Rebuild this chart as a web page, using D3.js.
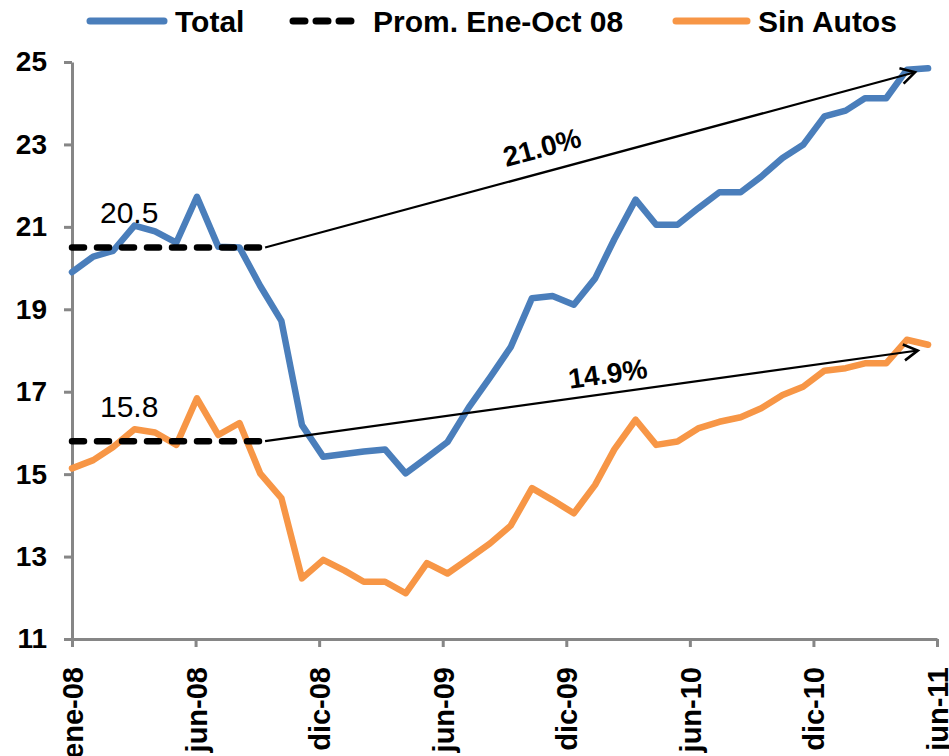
<!DOCTYPE html>
<html>
<head>
<meta charset="utf-8">
<script src="https://cdn.jsdelivr.net/npm/d3@7/dist/d3.min.js"></script>
<style>
  body { margin: 0; background: #fff; }
  svg text { font-family: "Liberation Sans", Arial, sans-serif; }
</style>
</head>
<body>
<svg width="949" height="756"></svg>
<script>
// months shown (first day of each month), ene-08 .. jun-11
var months = ["2008-01","2008-02","2008-03","2008-04","2008-05","2008-06","2008-07","2008-08","2008-09","2008-10","2008-11","2008-12",
              "2009-01","2009-02","2009-03","2009-04","2009-05","2009-06","2009-07","2009-08","2009-09","2009-10","2009-11","2009-12",
              "2010-01","2010-02","2010-03","2010-04","2010-05","2010-06","2010-07","2010-08","2010-09","2010-10","2010-11","2010-12",
              "2011-01","2011-02","2011-03","2011-04","2011-05","2011-06"];

var total = [19.9, 20.28, 20.42, 21.03, 20.89, 20.62, 21.73, 20.52, 20.5, 19.57, 18.72, 16.19,
             15.42, 15.49, 15.55, 15.6, 15.02, 15.4, 15.78, 16.62, 17.35, 18.08, 19.27, 19.32,
             19.11, 19.75, 20.7, 21.66, 21.05, 21.05, 21.45, 21.84, 21.84, 22.22, 22.67, 22.99,
             23.68, 23.82, 24.12, 24.12, 24.81, 24.85];

var sinAutos = [15.14, 15.34, 15.66, 16.09, 16.01, 15.71, 16.84, 15.95, 16.24, 15.02, 14.42, 12.47,
                12.92, 12.66, 12.39, 12.39, 12.11, 12.84, 12.59, 12.95, 13.32, 13.75, 14.66, 14.37,
                14.05, 14.74, 15.6, 16.32, 15.71, 15.79, 16.11, 16.27, 16.38, 16.6, 16.92, 17.12,
                17.51, 17.57, 17.69, 17.69, 18.26, 18.14];

// promedio ene-oct 08
var promMonths = ["2008-01", "2008-10"];
var promValues = [20.5, 15.8];
var promLabels = ["20.5", "15.8"];

// flechas de crecimiento
var growthLabels = ["21.0%", "14.9%"];
var arrowEndDates = ["2011-05-13", "2011-05-17"];
var arrowEndValues = [24.75, 18.0];

var seriesNames = ["Total", "Prom. Ene-Oct 08", "Sin Autos"];
var yTicks = [11, 13, 15, 17, 19, 21, 23, 25];
var xTickLabels = ["ene-08", "jun-08", "dic-08", "jun-09", "dic-09", "jun-10", "dic-10", "jun-11"];

var blue = "#4A7EBB", orange = "#F79646", axisGrey = "#868686";

var parseMonth = d3.utcParse("%Y-%m"),
    parseDay = d3.utcParse("%Y-%m-%d");

var svg = d3.select("svg");

// eje de fechas de Excel: marcas cada 180 dias desde el 1 de enero 2008
var start = parseMonth("2008-01");
var tickDates = xTickLabels.map(function(d, i) { return d3.utcDay.offset(start, 180 * i); });

var x = d3.scaleUtc()
    .domain([start, tickDates[tickDates.length - 1]])
    .range([72, 937]);

var y = d3.scaleLinear()
    .domain([11, 25])
    .range([639, 62]);

var line = d3.line()
    .x(function(d) { return x(d.date); })
    .y(function(d) { return y(d.value); });

function toPoints(values) {
  return values.map(function(v, i) { return {date: parseMonth(months[i]), value: v}; });
}

// ejes
var yAxis = svg.append("g")
    .attr("transform", "translate(" + x.range()[0] + ",0)")
    .call(d3.axisLeft(y).tickValues(yTicks).tickFormat(d3.format("d")).tickSize(8).tickSizeOuter(0).tickPadding(17));

var xAxis = svg.append("g")
    .attr("transform", "translate(0," + y.range()[0] + ")")
    .call(d3.axisBottom(x).tickValues(tickDates).tickFormat(function(d, i) { return xTickLabels[i]; }).tickSize(8).tickSizeOuter(0));

[yAxis, xAxis].forEach(function(ax) {
  ax.select(".domain").attr("stroke", axisGrey).attr("stroke-width", 3);
  ax.selectAll(".tick line").attr("stroke", axisGrey).attr("stroke-width", 3);
  ax.selectAll(".tick text")
    .attr("fill", "#000")
    .style("font-size", "28px")
    .style("font-weight", "bold");
});

xAxis.selectAll(".tick text")
    .attr("transform", "rotate(-90)")
    .attr("x", -28)
    .attr("y", 0)
    .attr("dy", "0.36em")
    .style("text-anchor", "end")
    .style("font-size", "29px");

// series
var series = [
  {name: seriesNames[0], color: blue, values: toPoints(total)},
  {name: seriesNames[2], color: orange, values: toPoints(sinAutos)}
];

svg.selectAll(".serie")
    .data(series)
    .enter().append("path")
    .attr("class", "serie")
    .attr("d", function(d) { return line(d.values); })
    .attr("fill", "none")
    .attr("stroke", function(d) { return d.color; })
    .attr("stroke-width", 6.5)
    .attr("stroke-linejoin", "round")
    .attr("stroke-linecap", "round");

// promedios (lineas punteadas)
promValues.forEach(function(v, i) {
  svg.append("path")
      .attr("d", line(promMonths.map(function(m) { return {date: parseMonth(m), value: v}; })))
      .attr("fill", "none")
      .attr("stroke", "#000")
      .attr("stroke-width", 6.5)
      .attr("stroke-dasharray", "12,13")
      .attr("stroke-linecap", "round");

  svg.append("text")
      .attr("x", x(parseMonth(promMonths[0])) + 28)
      .attr("y", y(v) - 24)
      .style("font-size", "30px")
      .text(promLabels[i]);
});

// flechas
svg.append("defs").append("marker")
    .attr("id", "head")
    .attr("markerUnits", "userSpaceOnUse")
    .attr("markerWidth", 20)
    .attr("markerHeight", 20)
    .attr("refX", 16)
    .attr("refY", 9)
    .attr("orient", "auto")
    .append("path")
    .attr("d", "M2,1 L16,9 L2,17")
    .attr("fill", "none")
    .attr("stroke", "#000")
    .attr("stroke-width", 2.6);

var labelAt = [0.436, 0.529],
    labelOffset = [15, 10];

promValues.forEach(function(v, i) {
  var x1 = x(parseMonth(promMonths[1])) + 5,
      y1 = y(v),
      x2 = x(parseDay(arrowEndDates[i])),
      y2 = y(arrowEndValues[i]);

  svg.append("line")
      .attr("x1", x1).attr("y1", y1)
      .attr("x2", x2).attr("y2", y2)
      .attr("stroke", "#000")
      .attr("stroke-width", 2.2)
      .attr("marker-end", "url(#head)");

  var angle = Math.atan2(y2 - y1, x2 - x1) * 180 / Math.PI,
      t = labelAt[i];

  svg.append("text")
      .attr("transform", "translate(" + (x1 + t * (x2 - x1)) + "," + (y1 + t * (y2 - y1)) + ") rotate(" + angle + ")")
      .attr("y", -labelOffset[i])
      .attr("text-anchor", "middle")
      .style("font-size", "28px")
      .style("font-weight", "bold")
      .text(growthLabels[i]);
});

// leyenda
var legend = [
  {name: seriesNames[0], color: blue, x1: 90, x2: 164, tx: 175, dash: null},
  {name: seriesNames[1], color: "#000", x1: 293, x2: 353, tx: 373, dash: "12,11"},
  {name: seriesNames[2], color: orange, x1: 676, x2: 747, tx: 758, dash: null}
];

var lg = svg.selectAll(".legend")
    .data(legend)
    .enter().append("g")
    .attr("class", "legend");

lg.append("line")
    .attr("x1", function(d) { return d.x1; })
    .attr("x2", function(d) { return d.x2; })
    .attr("y1", 21).attr("y2", 21)
    .attr("stroke", function(d) { return d.color; })
    .attr("stroke-width", 7)
    .attr("stroke-linecap", "round")
    .attr("stroke-dasharray", function(d) { return d.dash; });

lg.append("text")
    .attr("x", function(d) { return d.tx; })
    .attr("y", 21)
    .attr("dy", "0.36em")
    .style("font-size", "30px")
    .style("font-weight", "bold")
    .text(function(d) { return d.name; });
</script>
</body>
</html>
